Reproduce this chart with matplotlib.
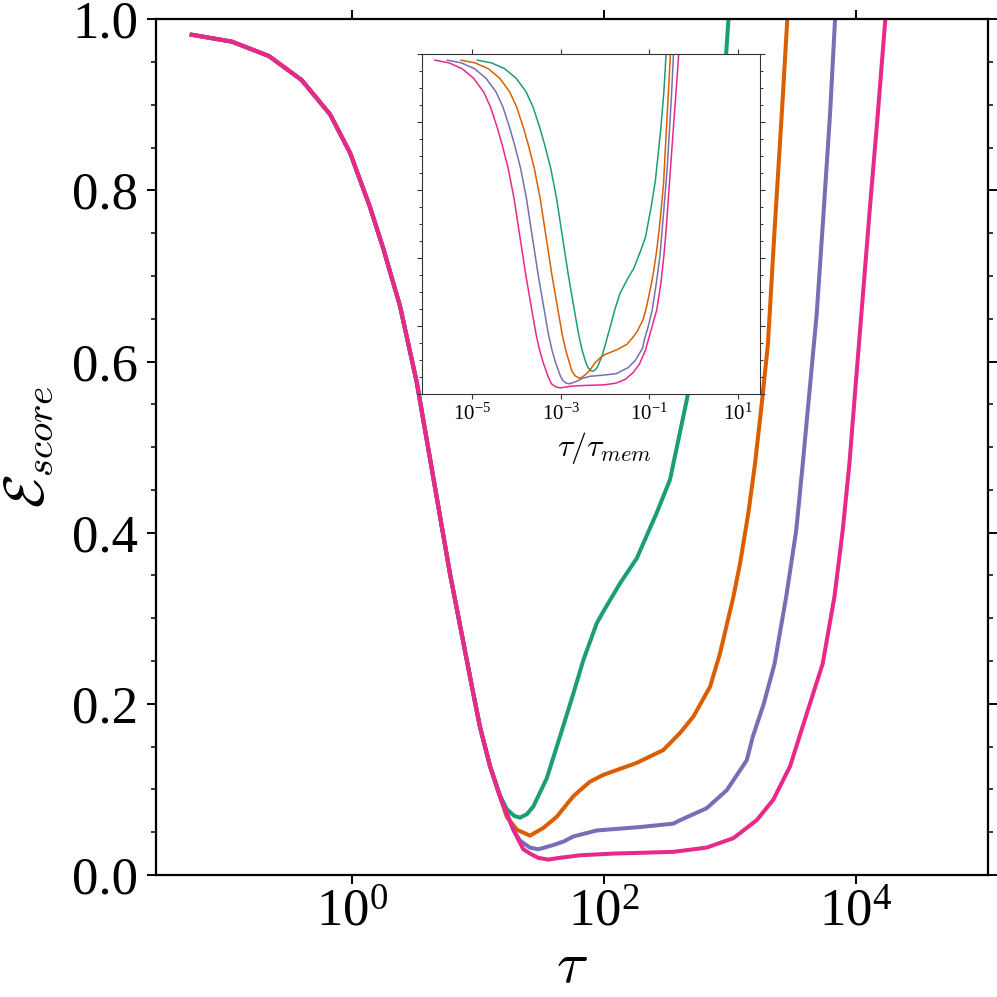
import numpy as np
import matplotlib
matplotlib.use('Agg')
import matplotlib.pyplot as plt
from matplotlib.ticker import FixedLocator, MultipleLocator, NullLocator, NullFormatter, LogFormatterMathtext

plt.rcParams['font.family'] = ['serif']
plt.rcParams['font.serif'] = ['Liberation Serif', 'DejaVu Serif']
plt.rcParams['mathtext.fontset'] = 'cm'

# ---- data (log10 tau and score error) ----
log_tau_common = [-1.27, -0.952, -0.656, -0.397, -0.172, -0.013, 0.144, 0.251, 0.383,
                  0.516, 0.648, 0.78, 0.965, 1.018, 1.098]
E_common = [0.982, 0.974, 0.957, 0.929, 0.889, 0.844, 0.781, 0.732, 0.665,
            0.576, 0.464, 0.352, 0.212, 0.173, 0.127]

log_tau_green = [1.177, 1.23, 1.29, 1.336, 1.39, 1.441, 1.548, 1.653, 1.759, 1.838, 1.944,
                 1.997, 2.13, 2.262, 2.42, 2.526, 2.659, 2.75, 2.87, 2.94, 2.99, 3.03]
E_green = [0.093, 0.077, 0.069, 0.067, 0.071, 0.080, 0.113, 0.162, 0.212, 0.251, 0.294,
           0.308, 0.341, 0.370, 0.423, 0.462, 0.555, 0.63, 0.78, 0.89, 1.0, 1.07]

log_tau_orange = [1.177, 1.23, 1.31, 1.415, 1.521, 1.627, 1.759, 1.812, 1.891, 1.997, 2.262,
                  2.473, 2.606, 2.711, 2.844, 2.923, 3.029, 3.082, 3.148, 3.201, 3.25, 3.303,
                  3.356, 3.413, 3.457, 3.49]
E_orange = [0.092, 0.068, 0.053, 0.046, 0.055, 0.068, 0.092, 0.099, 0.109, 0.117, 0.131,
            0.146, 0.166, 0.185, 0.220, 0.259, 0.325, 0.364, 0.423, 0.481, 0.545, 0.620,
            0.754, 0.889, 1.0, 1.07]

log_tau_purple = [1.177, 1.283, 1.336, 1.415, 1.481, 1.6, 1.68, 1.759, 1.944, 2.288, 2.552,
                  2.606, 2.817, 2.976, 3.135, 3.184, 3.27, 3.356, 3.448, 3.528, 3.58, 3.633,
                  3.69, 3.743, 3.796, 3.836, 3.87]
E_purple = [0.0915, 0.053, 0.040, 0.032, 0.030, 0.035, 0.039, 0.045, 0.052, 0.056, 0.060,
            0.064, 0.078, 0.099, 0.134, 0.162, 0.200, 0.247, 0.325, 0.403, 0.481, 0.565,
            0.655, 0.770, 0.889, 1.0, 1.07]

log_tau_pink = [1.177, 1.283, 1.362, 1.415, 1.48, 1.56, 1.65, 1.812, 2.076, 2.552, 2.817,
                3.029, 3.214, 3.346, 3.479, 3.554, 3.738, 3.831, 3.897, 3.95, 4.003, 4.05,
                4.11, 4.175, 4.235, 4.27]
E_pink = [0.0915, 0.0526, 0.030, 0.025, 0.020, 0.018, 0.020, 0.023, 0.025, 0.027, 0.032,
          0.043, 0.064, 0.088, 0.127, 0.162, 0.247, 0.325, 0.403, 0.481, 0.579, 0.665,
          0.775, 0.889, 1.0, 1.07]

log_tau_mem = [3.61, 3.98, 4.29, 4.57]
colors = ['#1b9e77', '#d95f02', '#7570b3', '#e7298a']

tails = [(log_tau_green, E_green), (log_tau_orange, E_orange),
         (log_tau_purple, E_purple), (log_tau_pink, E_pink)]

fig = plt.figure(figsize=(9.97, 9.97), dpi=100)
ax = fig.add_axes([0.1565, 0.1224, 0.8345, 0.8582])
axin = fig.add_axes([0.4233, 0.6048, 0.339, 0.341])

for (lt, e), c, ltm in zip(tails, colors, log_tau_mem):
    tau = 10 ** np.array(log_tau_common + lt)
    E = np.array(E_common + e)
    ax.plot(tau, E, color=c, lw=2.9, solid_joinstyle='round')
    axin.plot(tau / 10 ** ltm, E, color=c, lw=1.1)

# main axes
ax.set_xscale('log')
ax.set_xlim(10 ** -1.553, 10 ** 5.05)
ax.set_ylim(0, 1)
ax.xaxis.set_major_locator(FixedLocator([1e0, 1e2, 1e4]))
ax.xaxis.set_major_formatter(LogFormatterMathtext())
ax.xaxis.set_minor_locator(NullLocator())
ax.yaxis.set_major_locator(MultipleLocator(0.2))
ax.yaxis.set_minor_locator(MultipleLocator(0.05))
ax.tick_params(which='both', direction='out', top=True, right=True, labelsize=38)
ax.tick_params(which='major', length=6.5, width=1.4)
ax.tick_params(which='minor', length=3.6, width=1.1)
ax.tick_params(axis='y', which='major', pad=6.5)
for s in ax.spines.values():
    s.set_linewidth(1.6)
ax.set_xlabel(r'$\tau$', fontsize=42, labelpad=4)
ax.set_ylabel(r'$\mathcal{E}_{score}$', fontsize=40, labelpad=12)

# inset
axin.set_xscale('log')
axin.set_xlim(10 ** -6.13, 10 ** 1.5)
axin.set_ylim(0, 1)
axin.xaxis.set_major_locator(FixedLocator([1e-5, 1e-3, 1e-1, 1e1]))
axin.xaxis.set_major_formatter(LogFormatterMathtext())
axin.xaxis.set_minor_locator(NullLocator())
axin.yaxis.set_major_locator(MultipleLocator(0.2))
axin.yaxis.set_minor_locator(MultipleLocator(0.05))
axin.yaxis.set_major_formatter(NullFormatter())
axin.tick_params(which='both', direction='out', top=True, right=True, labelsize=15,
                 color='#333333')
axin.tick_params(which='major', length=3.5, width=0.8)
axin.tick_params(which='minor', length=2.3, width=0.7)
for s in axin.spines.values():
    s.set_linewidth(0.8)
    s.set_color('#333333')
axin.set_xlabel(r'$\tau/\tau_{mem}$', fontsize=23)
axin.xaxis.label.set_x(0.54)

fig.savefig('out.png', dpi=100)
